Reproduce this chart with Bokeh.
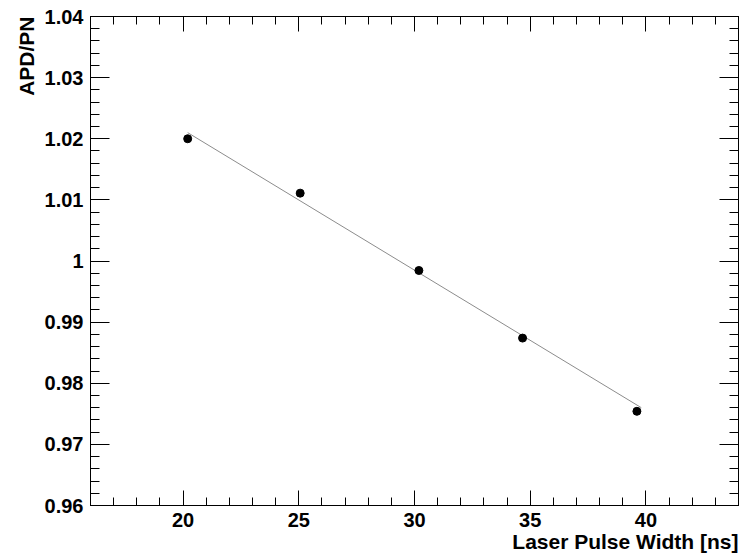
from bokeh.plotting import figure
from bokeh.models import (LinearAxis, SingleIntervalTicker, CustomJSTickFormatter,
                          Title, Range1d)
from bokeh.embed import file_html
from bokeh.resources import INLINE

# data
pulse_width = [20.2, 25.06, 30.19, 34.67, 39.61]
apd_pn = [1.0200, 1.0111, 0.99845, 0.98739, 0.97541]
fit_x = [20.2, 39.8]
fit_y = [1.0210, 0.9760]

x_title = "Laser Pulse Width [ns]"
y_title = "APD/PN"

FONT = "Liberation Sans"
TICK_FS = "20px"
TITLE_FS = "21px"

p = figure(width=740, height=556, output_backend="svg", toolbar_location=None,
           x_range=Range1d(16, 44), y_range=Range1d(0.96, 1.04),
           x_axis_type=None, y_axis_type=None,
           min_border_left=90, min_border_right=2, min_border_top=16,
           min_border_bottom=51)
p.xgrid.visible = False
p.ygrid.visible = False
p.outline_line_color = "black"
p.background_fill_color = "white"
p.border_fill_color = "white"

xt = SingleIntervalTicker(interval=5, num_minor_ticks=5)
yt = SingleIntervalTicker(interval=0.01, num_minor_ticks=5)
yfmt = CustomJSTickFormatter(code="return Number(tick.toFixed(2)).toString();")
xfmt = CustomJSTickFormatter(code="return Number(tick.toFixed(1)).toString();")
blank = CustomJSTickFormatter(code="return '';")


def style(ax, major_in, minor_in, labels=True):
    ax.major_tick_out = 0
    ax.minor_tick_out = 0
    ax.major_tick_in = major_in
    ax.minor_tick_in = minor_in
    ax.axis_line_color = "black"
    ax.major_tick_line_color = "black"
    ax.minor_tick_line_color = "black"
    ax.major_label_text_font = FONT
    ax.major_label_text_font_style = "bold"
    ax.major_label_text_color = "black"
    if labels:
        ax.major_label_text_font_size = TICK_FS
        ax.major_label_standoff = 7
    else:
        ax.major_label_text_font_size = "0px"
        ax.major_label_standoff = 0


bottom = LinearAxis(ticker=xt, formatter=xfmt)
style(bottom, 15, 8)
p.add_layout(bottom, "below")
top = LinearAxis(ticker=xt, formatter=blank)
style(top, 15, 8, labels=False)
p.add_layout(top, "above")
left = LinearAxis(ticker=yt, formatter=yfmt)
style(left, 19, 9)
p.add_layout(left, "left")
right = LinearAxis(ticker=yt, formatter=blank)
style(right, 19, 9, labels=False)
p.add_layout(right, "right")

p.line(fit_x, fit_y, line_color="#8c8c8c", line_width=1)
p.scatter(pulse_width, apd_pn, size=8, fill_color="black", line_color="black")

p.add_layout(Title(text=x_title, align="right", text_font=FONT,
                   text_font_style="bold", text_font_size=TITLE_FS,
                   text_color="black", standoff=-3, offset=0), "below")
p.add_layout(Title(text=y_title, align="right", text_font=FONT,
                   text_font_style="bold", text_font_size=TITLE_FS,
                   text_color="black", standoff=8, offset=0), "left")

open("out.html", "w").write(file_html(p, INLINE))
